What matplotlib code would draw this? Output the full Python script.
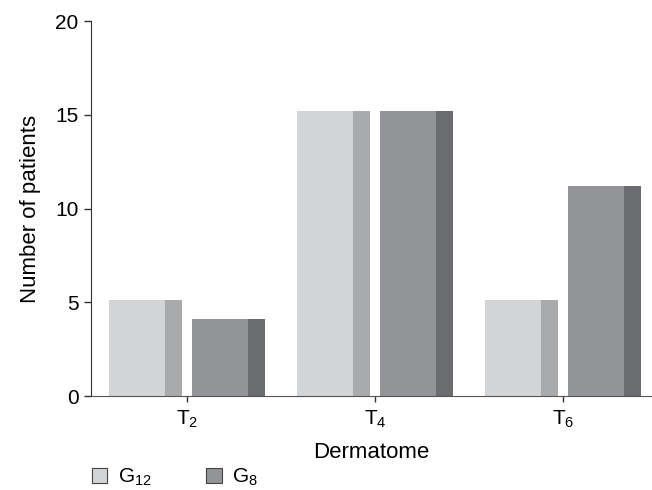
import numpy as np
import matplotlib.pyplot as plt
from matplotlib.patches import Patch

plt.rcParams['font.family'] = ['Liberation Sans', 'DejaVu Sans']
plt.rcParams['mathtext.default'] = 'regular'

# data
categories = [r'$T_2$', r'$T_4$', r'$T_6$']
g12 = [5.1, 15.2, 5.1]
g8 = [4.1, 15.2, 11.2]
series_labels = [r'$G_{12}$', r'$G_8$']

# colours: front face / side face
g12_front, g12_side = '#d3d4d6', '#a9aaac'
g8_front, g8_side = '#939497', '#6b6c6f'

x = np.arange(len(categories))
total_w = 0.39
front_w = 0.30
side_w = total_w - front_w
gap = 0.025

fig = plt.figure(figsize=(6.52, 4.9), dpi=100)
ax = fig.add_axes([0.1396, 0.1918, 0.8604, 0.765])

# G12 bars (front face + darker side face)
ax.bar(x - gap - total_w, g12, width=front_w, align='edge', color=g12_front, linewidth=0)
ax.bar(x - gap - side_w, g12, width=side_w, align='edge', color=g12_side, linewidth=0)
# G8 bars
ax.bar(x + gap, g8, width=front_w, align='edge', color=g8_front, linewidth=0)
ax.bar(x + gap + front_w, g8, width=side_w, align='edge', color=g8_side, linewidth=0)

ax.set_xlim(-0.51, 2.473)
ax.set_ylim(0, 20)
ax.set_yticks([0, 5, 10, 15, 20])
ax.set_xticks(x)
ax.set_xticklabels(categories)
ax.tick_params(axis='both', labelsize=15, color='#333333', width=1)
ax.tick_params(axis='y', length=5, pad=4)
ax.tick_params(axis='x', length=4, pad=5)
for s in ['top', 'right']:
    ax.spines[s].set_visible(False)
ax.spines['left'].set_color('#333333')
ax.spines['bottom'].set_color('#555555')

ax.set_ylabel('Number of patients', fontsize=16, labelpad=10)
ax.set_xlabel('Dermatome', fontsize=16, labelpad=9)

handles = [Patch(facecolor=g12_front, edgecolor='#444444', linewidth=0.8),
           Patch(facecolor=g8_front, edgecolor='#444444', linewidth=0.8)]
fig.legend(handles, series_labels, loc='lower left', bbox_to_anchor=(0.112, -0.035),
           ncol=2, frameon=False, fontsize=15, handlelength=0.75, handleheight=0.75,
           handletextpad=0.5, columnspacing=2.6)

plt.savefig('out.png', dpi=100)
